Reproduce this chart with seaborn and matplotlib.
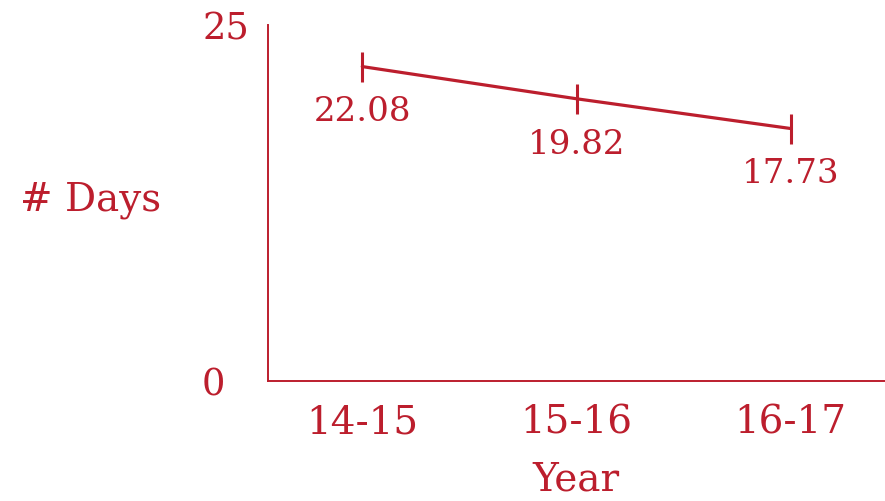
import matplotlib
matplotlib.use("Agg")
import matplotlib.pyplot as plt
import seaborn as sns
import pandas as pd

years = ["14-15", "15-16", "16-17"]
days = [22.08, 19.82, 17.73]
value_labels = ["22.08", "19.82", "17.73"]
y_ticks = [0, 25]
y_tick_labels = ["0", "25"]

RED = "#BC1E2D"

sns.set_theme(style="white")
plt.rcParams['font.family'] = ['DejaVu Serif', 'DejaVu Sans']

df = pd.DataFrame({"Year": years, "Days": days})

fig = plt.figure(figsize=(8.85, 5.01), dpi=100)
ax = fig.add_axes([268/885, 120/501, 617/885, 356/501])

sns.lineplot(data=df, x="Year", y="Days", ax=ax, color=RED, linewidth=2.3,
             marker="|", markersize=21, markeredgewidth=2.2, markeredgecolor=RED)

for i, (v, lab) in enumerate(zip(days, value_labels)):
    ax.annotate(lab, (i, v), xytext=(0, -33), textcoords="offset points",
                ha="center", va="center", fontsize=24.5, color=RED)

ax.set_ylim(0, 25)
ax.set_xlim(-0.44, 2.44)
ax.set_yticks(y_ticks)
ax.set_yticklabels(y_tick_labels)
for t in ax.get_yticklabels():
    t.set_horizontalalignment("left")
ax.tick_params(axis="y", length=0, pad=47.5, labelsize=26.5, labelcolor=RED)
ax.tick_params(axis="x", length=0, pad=17, labelsize=28, labelcolor=RED)

for s in ["top", "right"]:
    ax.spines[s].set_visible(False)
for s in ["left", "bottom"]:
    ax.spines[s].set_color(RED)
    ax.spines[s].set_linewidth(1.4)

ax.set_ylabel("# Days", rotation=0, fontsize=28, color=RED, ha="center", va="center")
ax.yaxis.set_label_coords(-0.287, 0.508)
ax.set_xlabel("Year", fontsize=28, color=RED, ha="center", va="center")
ax.xaxis.set_label_coords(0.499, -0.278)

fig.savefig("out.png", dpi=100)
